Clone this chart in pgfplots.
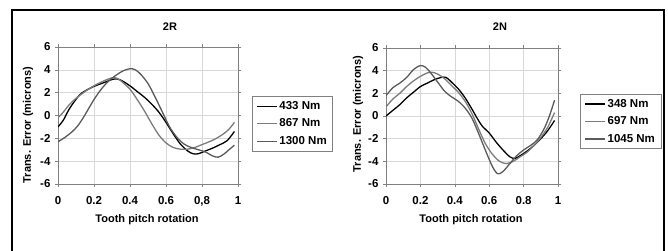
\documentclass[border=0pt]{standalone}
\usepackage{fontspec}
\setmainfont{Liberation Sans}
\usepackage{pgfplots}
\pgfplotsset{compat=1.18}
\definecolor{cA}{HTML}{000000}
\definecolor{cB}{HTML}{7C7C7C}
\definecolor{cC}{HTML}{5A5A5A}
\definecolor{axgray}{HTML}{808080}
\definecolor{grd}{HTML}{D8D8D8}
\pgfplotsset{
  teaxis/.style={
    scale only axis, anchor=south west,
    xmin=0, xmax=1, ymin=-6, ymax=6,
    xtick={0,0.2,0.4,0.6,0.8,1},
    ytick={-6,-4,-2,0,2,4,6},
    grid=major, major grid style={grd, line width=0.5pt},
    axis line style={axgray, line width=0.8pt},
    tick style={axgray, line width=0.6pt},
    tick align=outside, major tick length=3pt,
    font=\bfseries\fontsize{11.5}{13}\selectfont,
    /pgf/number format/assume math mode=true,
    yticklabel style={xshift=-1pt},
    xticklabel style={yshift=-6pt},
    legend cell align=left,
    legend style={draw=axgray, line width=0.6pt, font=\bfseries\fontsize{11.5}{13}\selectfont,
      inner xsep=4pt, inner ysep=3pt, row sep=4pt, /tikz/every even column/.append style={column sep=1pt}},
    legend image code/.code={\draw[#1, line width=1.3pt] (0pt,0pt) -- (20pt,0pt);},
    every axis plot/.append style={smooth, tension=0.5, line width=1.3pt, no markers},
  }
}
\begin{document}
\begin{tikzpicture}[x=1pt,y=1pt]
\path[use as bounding box] (0,0) rectangle (668,251);
\draw[line width=2pt, black] (12,0) -- (12,241) -- (664,241) -- (664,0);
\node[font=\bfseries\fontsize{11}{13}\selectfont] at (170,224) {2R};
\node[font=\bfseries\fontsize{11}{13}\selectfont] at (500,224) {2N};
\node[font=\bfseries\fontsize{11}{13}\selectfont, rotate=90] at (28,126) {Trans. Error (microns)};
\node[font=\bfseries\fontsize{11}{13}\selectfont, rotate=90] at (358,137) {Trans. Error (microns)};
\node[font=\bfseries\fontsize{11}{13}\selectfont] at (147,31) {Tooth pitch rotation};
\node[font=\bfseries\fontsize{11}{13}\selectfont] at (471,31) {Tooth pitch rotation};
\begin{axis}[teaxis, at={(58pt,67pt)}, width=180pt, height=137pt,
  xticklabels={0,0.2,0.4,0.6,{0,8},1},
  legend style={at={(1.077,0.44)}, anchor=west}]
\addplot[cA] coordinates {(0,-1.0) (0.03,-0.4) (0.06,0.5) (0.09,1.2) (0.12,1.8) (0.15,2.15) (0.2,2.55) (0.25,2.85) (0.3,3.15) (0.33,3.2) (0.36,3.0) (0.4,2.6) (0.44,2.1) (0.48,1.6) (0.52,1.0) (0.56,0.3) (0.6,-0.6) (0.64,-1.6) (0.68,-2.5) (0.72,-3.1) (0.75,-3.35) (0.78,-3.35) (0.82,-3.1) (0.86,-2.85) (0.9,-2.55) (0.94,-2.2) (0.98,-1.4)};
\addlegendentry{433 Nm}
\addplot[cB] coordinates {(0,-0.2) (0.03,0.3) (0.06,0.9) (0.1,1.5) (0.15,2.1) (0.2,2.6) (0.25,3.0) (0.3,3.3) (0.33,3.25) (0.36,2.9) (0.4,2.3) (0.44,1.4) (0.48,0.4) (0.52,-0.7) (0.56,-1.7) (0.6,-2.4) (0.64,-2.8) (0.68,-2.95) (0.72,-2.95) (0.76,-2.8) (0.8,-2.55) (0.84,-2.3) (0.88,-2.0) (0.92,-1.6) (0.95,-1.2) (0.98,-0.6)};
\addlegendentry{867 Nm}
\addplot[cC] coordinates {(0,-2.3) (0.04,-1.9) (0.08,-1.4) (0.11,-0.9) (0.14,-0.2) (0.17,0.6) (0.2,1.4) (0.24,2.3) (0.28,3.0) (0.32,3.5) (0.36,3.9) (0.4,4.1) (0.43,4.0) (0.46,3.6) (0.5,2.8) (0.54,1.6) (0.58,0.3) (0.62,-1.0) (0.66,-1.9) (0.7,-2.5) (0.74,-2.8) (0.78,-3.0) (0.82,-3.2) (0.86,-3.55) (0.89,-3.65) (0.92,-3.4) (0.95,-3.0) (0.98,-2.6)};
\addlegendentry{1300 Nm}
\end{axis}
\begin{axis}[teaxis, at={(386pt,67pt)}, width=172pt, height=136pt,
  xticklabels={0,0.2,0.4,0.6,0.8,1},
  legend style={at={(1.128,0.46)}, anchor=west}]
\addplot[cA] coordinates {(0,0.0) (0.04,0.5) (0.08,1.0) (0.12,1.6) (0.16,2.1) (0.2,2.6) (0.24,2.9) (0.28,3.2) (0.32,3.4) (0.35,3.4) (0.38,3.0) (0.42,2.4) (0.46,1.6) (0.5,0.6) (0.53,-0.2) (0.56,-0.9) (0.6,-1.5) (0.64,-2.3) (0.68,-3.0) (0.72,-3.6) (0.75,-3.75) (0.78,-3.5) (0.82,-3.1) (0.86,-2.6) (0.9,-2.0) (0.94,-1.3) (0.98,-0.4)};
\addlegendentry{348 Nm}
\addplot[cB] coordinates {(0,0.8) (0.04,1.5) (0.08,2.0) (0.12,2.6) (0.16,3.1) (0.2,3.5) (0.24,3.8) (0.27,3.85) (0.3,3.7) (0.34,3.3) (0.38,2.7) (0.42,2.1) (0.46,1.3) (0.5,0.2) (0.54,-1.2) (0.58,-2.5) (0.62,-3.4) (0.66,-4.0) (0.7,-4.2) (0.74,-4.0) (0.78,-3.6) (0.82,-3.2) (0.86,-2.6) (0.9,-1.9) (0.94,-1.0) (0.98,0.3)};
\addlegendentry{697 Nm}
\addplot[cC] coordinates {(0,1.8) (0.04,2.5) (0.08,2.9) (0.12,3.4) (0.16,4.1) (0.2,4.45) (0.23,4.3) (0.26,3.8) (0.3,3.0) (0.34,2.2) (0.38,1.7) (0.42,1.3) (0.46,0.7) (0.5,-0.2) (0.54,-1.6) (0.58,-3.1) (0.62,-4.5) (0.65,-5.1) (0.68,-4.9) (0.72,-4.2) (0.76,-3.5) (0.8,-3.0) (0.84,-2.6) (0.88,-2.1) (0.92,-1.1) (0.95,0.0) (0.98,1.4)};
\addlegendentry{1045 Nm}
\end{axis}
\end{tikzpicture}
\end{document}
